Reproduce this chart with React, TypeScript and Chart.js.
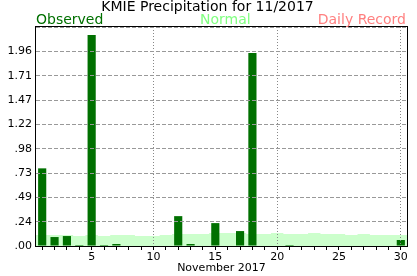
import React, { useEffect, useRef } from 'react';
import { Chart, registerables } from 'chart.js';

Chart.register(...registerables);

const titleText = 'KMIE Precipitation for 11/2017';
const legendObserved = 'Observed';
const legendNormal = 'Normal';
const legendRecord = 'Daily Record';
const xAxisTitle = 'November 2017';

const days = [1, 2, 3, 4, 5, 6, 7, 8, 9, 10, 11, 12, 13, 14, 15, 16, 17, 18, 19, 20, 21, 22, 23, 24, 25, 26, 27, 28, 29, 30];
const observed = [0.78, 0.09, 0.1, 0.01, 2.12, 0.01, 0.02, 0, 0, 0, 0, 0.3, 0.02, 0, 0.23, 0, 0.15, 1.94, 0, 0, 0.01, 0, 0, 0, 0, 0, 0, 0, 0, 0.06];
const normal = [0.11, 0.11, 0.11, 0.1, 0.11, 0.1, 0.11, 0.11, 0.1, 0.1, 0.11, 0.12, 0.12, 0.12, 0.13, 0.13, 0.13, 0.12, 0.12, 0.13, 0.12, 0.12, 0.13, 0.12, 0.12, 0.11, 0.12, 0.11, 0.11, 0.11];
const xLabelDays = [5, 10, 15, 20, 25, 30];
const xGridDays = [10, 20, 30];
const yTickLabels = ['.00', '.24', '.49', '.73', '.98', '1.22', '1.47', '1.71', '1.96', ''];
const yMax = 2.2;

const FONT = 'DejaVu Sans';

const textPlugin = {
  id: 'customTexts',
  afterDraw(chart: any) {
    const { ctx, chartArea } = chart;
    ctx.save();
    // frame
    ctx.strokeStyle = '#000';
    ctx.lineWidth = 1;
    ctx.strokeRect(Math.round(chartArea.left) - 0.5, Math.round(chartArea.top) - 0.5, Math.round(chartArea.right - chartArea.left) + 1, Math.round(chartArea.bottom - chartArea.top) + 1);
    // title
    ctx.font = `14px "${FONT}"`;
    ctx.textBaseline = 'alphabetic';
    ctx.fillStyle = '#000';
    ctx.textAlign = 'center';
    ctx.fillText(titleText, 207.5, 11);
    ctx.textAlign = 'left';
    ctx.fillStyle = '#007000';
    ctx.fillText(legendObserved, chartArea.left, 24);
    ctx.fillStyle = '#80ff80';
    ctx.fillText(legendNormal, 200, 24);
    ctx.textAlign = 'right';
    ctx.fillStyle = '#ff8080';
    ctx.fillText(legendRecord, chartArea.right - 1, 24);
    ctx.restore();
  },
};

export default function App() {
  const ref = useRef<HTMLCanvasElement>(null);

  useEffect(() => {
    if (!ref.current) return;
    Chart.defaults.font.family = FONT;
    const barData = days.map((d, i) => ({ x: d, y: observed[i] }));
    const normalData = days.map((d, i) => ({ x: d - 0.5, y: normal[i] }));
    normalData.push({ x: days[days.length - 1] + 0.5, y: normal[normal.length - 1] });

    const chart = new Chart(ref.current, {
      type: 'bar',
      data: {
        datasets: [
          {
            type: 'bar',
            data: barData,
            backgroundColor: '#007000',
            borderWidth: 0,
            categoryPercentage: 1,
            barPercentage: 0.66,
            order: 1,
          } as any,
          {
            type: 'line',
            data: normalData,
            stepped: 'before',
            fill: 'origin',
            backgroundColor: '#ccffcc',
            borderColor: '#ccffcc',
            borderWidth: 0,
            pointRadius: 0,
            order: 2,
          } as any,
        ],
      },
      options: {
        animation: false,
        responsive: false,
        devicePixelRatio: 1,
        layout: { padding: { top: 27, right: 10, left: 0, bottom: 0 } },
        plugins: { legend: { display: false }, title: { display: false }, tooltip: { enabled: false } },
        scales: {
          x: {
            type: 'linear',
            min: 0.5,
            max: 30.5,
            offset: false,
            afterFit: (s: any) => { s.height = 30; },
            afterBuildTicks: (s: any) => { s.ticks = days.map((d) => ({ value: d })); },
            grid: {
              offset: false,
              z: 1,
              drawTicks: true,
              tickLength: 4,
              tickColor: '#000',
              lineWidth: 1,
              color: (c: any) => (c.tick && xGridDays.includes(c.tick.value) ? '#888' : 'rgba(0,0,0,0)'),
            },
            border: { display: false, dash: [1, 2] },
            ticks: {
              autoSkip: false,
              maxRotation: 0,
              padding: 1,
              color: '#000',
              font: { size: 11, family: FONT },
              callback: (v: any) => (xLabelDays.includes(Number(v)) ? String(v) : ''),
            },
            title: {
              display: true,
              text: xAxisTitle,
              color: '#000',
              font: { size: 11, family: FONT },
              padding: { top: 0, bottom: 1 },
            },
          },
          y: {
            type: 'linear',
            min: 0,
            max: yMax,
            afterFit: (s: any) => { s.width = 36; },
            afterBuildTicks: (s: any) => {
              s.ticks = yTickLabels.map((_, i) => ({ value: (i * yMax) / (yTickLabels.length - 1) }));
            },
            grid: {
              z: 1,
              drawTicks: false,
              color: '#999',
              lineWidth: 1,
            },
            border: { display: false, dash: [4, 2] },
            ticks: {
              padding: 4,
              color: '#000',
              font: { size: 11, family: FONT },
              callback: (_v: any, i: number) => yTickLabels[i],
            },
          },
        },
      },
      plugins: [textPlugin],
    });
    return () => chart.destroy();
  }, []);

  return (
    <div style={{ position: 'absolute', left: 0, top: 0, width: 417, height: 276, background: '#fff' }}>
      <canvas ref={ref} width={417} height={276} style={{ width: 417, height: 276, display: 'block' }} />
    </div>
  );
}
